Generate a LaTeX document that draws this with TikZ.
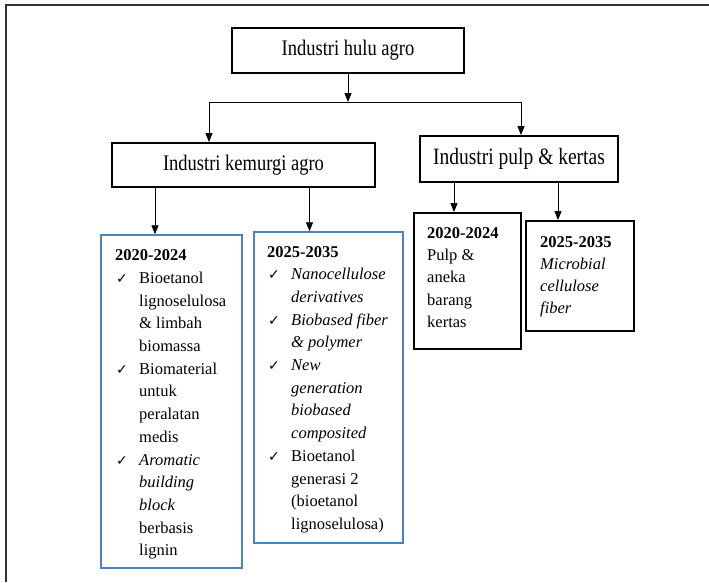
\documentclass[tikz,border=0pt]{standalone}
\usepackage{fontspec}
\usepackage{graphicx}
\setmainfont{Liberation Serif}
\newfontfamily\symf{DejaVu Sans}
\usetikzlibrary{arrows.meta,calc}
\definecolor{bbl}{RGB}{79,129,189}
\newcommand\ck{\makebox[24pt][l]{\hspace{1pt}{\symf\fontsize{14}{14}\selectfont ✓}}}
\newcommand\ind{\hspace*{24pt}}
\newcommand\tall[1]{\scalebox{1}[1.2]{#1}}
\begin{document}
\begin{tikzpicture}[x=1pt,y=-1pt,
  blk/.style={draw=black, line width=1.8pt, inner sep=0pt},
  blu/.style={draw=bbl, line width=1.5pt, inner sep=0pt},
  ttl/.style={font=\fontsize{18.5}{22}\selectfont},
  body/.style={font=\fontsize{16.5}{22.7}\selectfont, align=left, anchor=base west, inner sep=0pt},
  arr/.style={line width=0.9pt, -{Triangle[length=9pt,width=7pt]}},
  ln/.style={line width=0.9pt}]
\useasboundingbox (0,0) rectangle (709,582);
% frame (cropped)
\draw[line width=2pt, black!80] (5.5,582) -- (5.5,5) -- (709,5);
% title boxes
\node[blk, ttl, minimum width=232pt, minimum height=45pt] (hulu) at (348,50.5) {\tall{Industri hulu agro}};
\node[blk, ttl, minimum width=263pt, minimum height=44pt] (kem) at (243.5,165) {\tall{Industri kemurgi agro}};
\node[blk, ttl, font=\fontsize{19.5}{22}\selectfont, minimum width=198pt, minimum height=46pt] (pulp) at (519,159) {\tall{Industri pulp \& kertas}};
% content boxes
\node[blu, minimum width=141pt, minimum height=333pt] (b1) at (171.5,401.5) {};
\node[blu, minimum width=149pt, minimum height=311pt] (b2) at (328.5,387.5) {};
\node[blk, minimum width=107pt, minimum height=136pt] (b3) at (467.5,281) {};
\node[blk, minimum width=108pt, minimum height=110pt] (b4) at (580,276) {};
% texts (base anchor = baseline of the last line)
\node[body] (t1) at (115,555.8) {\textbf{2020-2024}\\
\ck Bioetanol\\
\ind lignoselulosa\\
\ind \& limbah\\
\ind biomassa\\
\ck Biomaterial\\
\ind untuk\\
\ind peralatan\\
\ind medis\\
\ck \textit{Aromatic}\\
\ind \textit{building}\\
\ind \textit{block}\\
\ind berbasis\\
\ind lignin};
\node[body] (t2) at (267,529.4) {\textbf{2025-2035}\\
\ck \textit{Nanocellulose}\\
\ind \textit{derivatives}\\
\ck \textit{Biobased fiber}\\
\ind \textit{\& polymer}\\
\ck \textit{New}\\
\ind \textit{generation}\\
\ind \textit{biobased}\\
\ind \textit{composited}\\
\ck Bioetanol\\
\ind generasi 2\\
\ind (bioetanol\\
\ind lignoselulosa)};
\node[body, font=\fontsize{16.5}{22.4}\selectfont] (t3) at (427,327.6) {\textbf{2020-2024}\\
Pulp \&\\
aneka\\
barang\\
kertas};
\node[body, font=\fontsize{16.5}{22.2}\selectfont] (t4) at (540,313.6) {\textbf{2025-2035}\\
\textit{Microbial}\\
\textit{cellulose}\\
\textit{fiber}};
% connectors
\coordinate (sp) at (348,102);
\coordinate (hl) at (209,102);
\coordinate (hr) at (521,102);
\coordinate (a1) at (155,0);
\coordinate (a2) at (309.5,0);
\coordinate (a3) at (454,0);
\coordinate (a4) at (558,0);
\draw[arr] (hulu.south -| sp) -- (sp);
\draw[ln] (hl) -- (hr);
\draw[arr] (hl) -- (hl |- kem.north);
\draw[arr] (hr) -- (hr |- pulp.north);
\draw[arr] (kem.south -| a1) -- (b1.north -| a1);
\draw[arr] (kem.south -| a2) -- (b2.north -| a2);
\draw[arr] (pulp.south -| a3) -- (b3.north -| a3);
\draw[arr] (pulp.south -| a4) -- (b4.north -| a4);
\end{tikzpicture}
\end{document}
